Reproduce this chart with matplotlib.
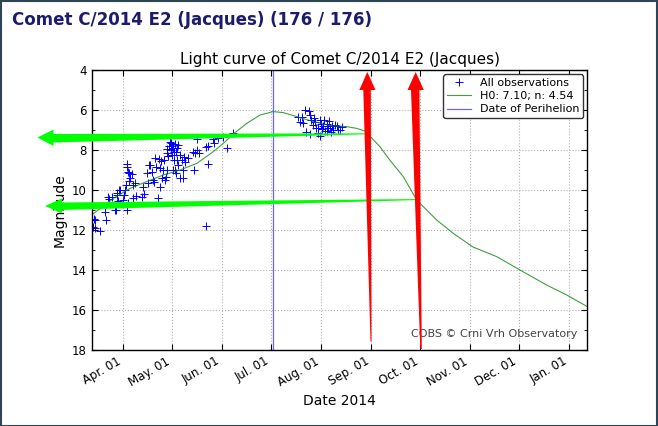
import datetime as dt
import numpy as np
import matplotlib
matplotlib.use("Agg")
import matplotlib.pyplot as plt
import matplotlib.dates as mdates
from matplotlib.patches import Polygon, Rectangle
from matplotlib.ticker import MultipleLocator

# observations: days after 2014-04-01 and visual magnitude
obs_days = [-18.5, -17.4, -17.4, -14.4, -17.9, -11.3, -10.9, -9.2, -8.8, -7.2,
            -5.1, -4.5, -4.1, -4.1, -3.9, -2.7, -2.0, -3.3, -0.2, 0.0,
            0.4, 1.0, 1.7, 2.1, 2.5, 3.1, 2.5, 3.1, 3.7, 3.7,
            4.1, 5.2, 5.8, 6.0, 7.2, 7.8, 11.3, 12.8, 12.1,
            14.4, 15.4, 16.0, 16.5, 17.5, 18.3, 18.9, 19.5, 20.2, 21.6,
            22.2, 22.6, 22.6, 23.2, 23.9, 24.7, 25.1, 25.9, 26.3, 26.8,
            26.8, 26.9, 27.6, 28.2, 28.8, 29.2, 29.4, 30.0, 30.0, 30.6,
            30.8, 31.3, 31.3, 31.9, 31.9, 32.5, 32.5, 33.1, 33.1, 33.9,
            33.7, 35.0, 35.0, 36.0, 36.8, 36.6, 37.6, 38.0, 39.9,
            43.2, 43.6, 44.2, 45.3, 45.3, 46.7, 50.8, 51.0, 52.4, 52.4,
            55.5, 55.9, 58.6, 61.7, 63.7, 67.6,
            109.9, 108.9, 111.0, 112.0, 114.7, 115.1, 115.7, 115.1, 117.0, 118.2,
            118.8, 120.2, 121.2, 121.2, 121.9, 122.5, 123.3, 123.7, 124.3, 125.4,
            125.6, 126.2, 126.8, 127.5, 128.1, 128.7, 129.3, 130.5, 131.6, 132.4,
            133.6, 134.8, 119.8, 112.6, 107.7, 117.6]
obs_mags = [11.83, 11.50, 11.92, 12.03, 11.45, 11.12, 11.50, 10.37, 10.43, 10.33,
            11.00, 11.00, 10.25, 10.67, 10.15, 10.00, 10.00, 10.55, 10.50, 10.67,
            10.25, 10.00, 9.75, 8.83, 8.70, 9.10, 11.00, 10.67, 9.53, 9.17,
            9.40, 9.20, 9.75, 10.40, 9.67, 10.30, 10.33, 10.20, 9.85,
            9.17, 9.67, 8.75, 8.75, 9.08, 9.50, 9.58, 8.42, 8.85, 10.42,
            8.47, 8.92, 9.83, 8.55, 9.40, 9.00, 8.50, 9.50, 9.33, 8.17,
            7.97, 9.00, 8.30, 7.80, 7.58, 7.63, 8.00, 7.80, 8.25, 7.90,
            9.00, 8.10, 8.50, 7.70, 9.00, 8.10, 9.15, 7.90, 8.50, 7.75,
            8.75, 9.42, 8.25, 8.50, 9.00, 9.42, 8.33, 8.60, 8.40,
            8.08, 9.00, 8.17, 7.45, 8.00, 8.15, 7.87, 11.80, 7.80, 8.70,
            7.45, 7.67, 7.42, 7.37, 7.92, 7.15,
            6.33, 6.58, 6.67, 6.00, 6.03, 6.25, 6.50, 7.20, 6.75, 6.58,
            6.90, 6.92, 6.50, 7.30, 6.70, 6.95, 6.80, 6.50, 7.05, 7.03,
            6.70, 6.90, 6.55, 6.92, 7.10, 6.80, 7.00, 6.75, 6.80, 7.00,
            7.00, 6.85, 7.15, 7.10, 6.35, 6.40]

# fitted light curve (H0 7.10, n 4.54)
model_days = [-19.5, -6.2, 4.1, 14.4, 24.7, 35.0, 45.3, 55.5, 61.7, 67.8,
              76.1, 84.3, 92.5, 98.6, 106.9, 117.1, 127.4, 137.7, 143.9, 150.1,
              152.3, 158.2, 164.3, 172.6, 180.9, 193.2, 203.5, 215.6, 230.2, 244.6,
              261.0, 273.4, 286.1]
model_mags = [11.25, 10.42, 9.92, 9.58, 9.25, 9.00, 8.67, 8.08, 7.67, 7.20,
              6.67, 6.25, 6.08, 6.13, 6.33, 6.58, 6.78, 6.83, 6.92, 7.08,
              7.33, 7.83, 8.50, 9.33, 10.50, 11.50, 12.17, 12.85, 13.33, 14.00,
              14.75, 15.25, 15.83]

perihelion = dt.datetime(2014, 7, 2)
start = dt.datetime(2014, 4, 1)

W, H = 658, 426
fig = plt.figure(figsize=(W / 100, H / 100), dpi=100)
ax = fig.add_axes([91.7 / W, 1 - 350 / H, (587.3 - 91.7) / W, (350 - 70) / H])

t0 = mdates.date2num(start)
obs_x = t0 + np.array(obs_days)
model_x = t0 + np.array(model_days)

ax.plot(obs_x, obs_mags, "+", color="blue", ms=6, mew=0.7, label="All observations")
ax.plot(model_x, model_mags, "-", color="green", lw=0.8, alpha=0.75,
        label="H0: 7.10; n: 4.54")
ax.axvline(mdates.date2num(perihelion), color="#4444ee", lw=0.9, alpha=0.8,
           label="Date of Perihelion")

ax.set_xlim(t0 - 19.5, t0 + 286.1)
ax.set_ylim(18, 4)
ax.yaxis.set_major_locator(MultipleLocator(2))
ax.yaxis.set_minor_locator(MultipleLocator(1))
ax.xaxis.set_major_locator(mdates.MonthLocator())
ax.xaxis.set_major_formatter(mdates.DateFormatter("%b. %d"))
ax.tick_params(which="both", direction="in", top=True, right=True, labelsize=8.5)
ax.tick_params(which="major", length=4)
ax.tick_params(which="minor", length=2)
for lbl in ax.get_xticklabels():
    lbl.set_rotation(30)
    lbl.set_ha("right")
ax.grid(True, which="major", ls=":", color="#b0b0b0", lw=0.8)
for s in ax.spines.values():
    s.set_linewidth(1.0)

ax.set_title("Light curve of Comet C/2014 E2 (Jacques)", fontsize=11, pad=4)
ax.set_xlabel("Date 2014", fontsize=10)
ax.set_ylabel("Magnitude", fontsize=10)
leg = ax.legend(loc="upper right", fontsize=8, numpoints=1, fancybox=True,
                framealpha=1, borderaxespad=0.4, handlelength=2.2,
                borderpad=0.3, labelspacing=0.3)
leg.get_frame().set_edgecolor("#333333")
ax.text(0.98, 0.04, "COBS \u00a9 Crni Vrh Observatory", transform=ax.transAxes,
        ha="right", va="bottom", fontsize=8, color="#444444")

fig.text(12 / W, 1 - 20 / H, "Comet C/2014 E2 (Jacques) (176 / 176)",
         fontsize=12, fontweight="bold", color="#1c1c6c", va="center")
fig.add_artist(Rectangle((0.5 / W, 0.5 / H), 1 - 1.5 / W, 1 - 1.5 / H,
                         transform=fig.transFigure, fill=False,
                         ec="#2e4654", lw=1.5))


# annotation arrows drawn over the chart, pixel coords from top-left
def px(pts):
    return [(x / W, 1 - y / H) for x, y in pts]


green_arrows = [
    [(37.5, 137.5), (53.5, 129.5), (53.5, 134.0), (366, 133.3), (366, 134.3),
     (53.5, 142.5), (53.5, 146.0)],
    [(45.0, 206.0), (62.0, 198.5), (62.0, 202.5), (420, 199.0), (420, 200.0),
     (62.0, 210.0), (62.0, 213.5)],
]
red_arrows = [
    [(367.3, 72.0), (375.5, 90.0), (370.8, 90.0), (371.5, 341.5), (370.5, 341.5),
     (363.3, 90.0), (359.3, 90.0)],
    [(415.7, 72.0), (423.8, 90.0), (419.4, 90.0), (421.8, 349.0), (420.3, 349.0),
     (411.0, 90.0), (407.5, 90.0)],
]
for pts in green_arrows:
    fig.add_artist(Polygon(px(pts), closed=True, transform=fig.transFigure,
                           fc="#00ff00", ec="none", zorder=5))
for pts in red_arrows:
    fig.add_artist(Polygon(px(pts), closed=True, transform=fig.transFigure,
                           fc="#ff0000", ec="none", zorder=5))

fig.savefig("out.png", dpi=100)
